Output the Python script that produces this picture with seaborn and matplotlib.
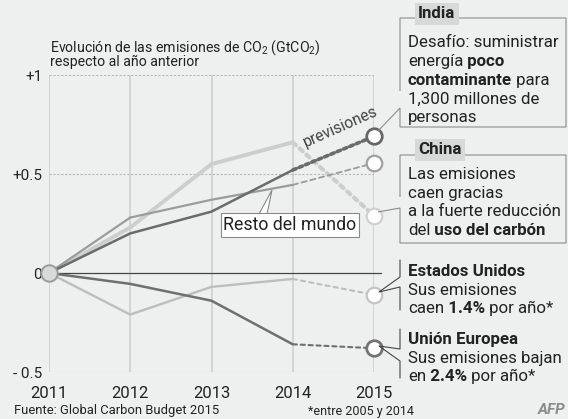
import numpy as np
import pandas as pd
import matplotlib.pyplot as plt
import matplotlib.patches as mpatches
import seaborn as sns

# ── Data ──────────────────────────────────────────────────────────────
YEARS = [2011, 2012, 2013, 2014]
FORECAST_YEAR = 2015
SERIES = ["India", "Resto del mundo", "China", "Estados Unidos", "Unión Europea"]
india = [0, 0.20, 0.31, 0.52]
resto = [0, 0.28, 0.37, 0.445]
china = [0, 0.23, 0.55, 0.66]
usa = [0, -0.21, -0.07, -0.03]
eu = [0, -0.055, -0.14, -0.36]
forecast_2015 = [0.69, 0.555, 0.29, -0.11, -0.38]

YTICKS = [-0.5, 0, 0.5, 1]
YTICKLABELS = ["- 0.5", "0", "+0.5", "+1"]

# ── Style ─────────────────────────────────────────────────────────────
BG = "#eef0ef"
TXT = "#222222"
COLORS = {"India": "#6b6b6b", "Resto del mundo": "#9b9b9b", "China": "#cdcdcd",
          "Estados Unidos": "#bdbdbd", "Unión Europea": "#6f6f6f"}
LW = {"India": 1.8, "Resto del mundo": 1.6, "China": 2.8,
      "Estados Unidos": 1.7, "Unión Europea": 1.8}
FORE_LS = {"India": (0, (1, 0.9)), "Resto del mundo": (0, (3, 2)), "China": (0, (1, 1.2)),
           "Estados Unidos": (0, (2, 2)), "Unión Europea": (0, (2, 1.8))}
FORE_LW = {"India": 2.6, "Resto del mundo": 1.3, "China": 3.0,
           "Estados Unidos": 1.5, "Unión Europea": 1.5}

sns.set_theme(style="white")
plt.rcParams.update({
    "font.family": ["Roboto", "DejaVu Sans"],
    "text.color": TXT,
    "mathtext.fontset": "custom",
    "mathtext.rm": "Roboto",
    "mathtext.it": "Roboto:italic",
    "mathtext.bf": "Roboto:bold",
})

W, H = 568, 419
fx = lambda x: x / W
fy = lambda y: 1 - y / H

df = pd.DataFrame({
    "year": YEARS * len(SERIES),
    "series": np.repeat(SERIES, len(YEARS)),
    "value": india + resto + china + usa + eu,
})
fore = pd.DataFrame({"series": SERIES, "v2014": [india[-1], resto[-1], china[-1], usa[-1], eu[-1]],
                     "v2015": forecast_2015})

fig = plt.figure(figsize=(W / 100, H / 100), dpi=100, facecolor=BG)
ax = fig.add_axes([fx(49), fy(372), fx(374) - fx(49), fy(75) - fy(372)])
ax.set_facecolor("none")
ax.set_xlim(2011, 2015)
ax.set_ylim(-0.5, 1)
for s in ax.spines.values():
    s.set_visible(False)

# grid
for yr in range(2011, 2016):
    ax.axvline(yr, color="#d2d2d2", lw=1.3, zorder=0)
for yv in (1, 0.5, -0.5):
    ax.axhline(yv, color="#b8b8b8", lw=0.8, ls=(0, (2, 1.5)), zorder=0)
ax.plot([2011, 2015.08], [0, 0], color="#444444", lw=0.9, zorder=1, clip_on=False)

# actual lines
draw_order = ["China", "Estados Unidos", "Resto del mundo", "India", "Unión Europea"]
for name in draw_order:
    sub = df[df["series"] == name]
    sns.lineplot(data=sub, x="year", y="value", color=COLORS[name], lw=LW[name],
                 ax=ax, legend=False, zorder=3, solid_capstyle="round")

# forecast segments
for name in draw_order:
    row = fore[fore["series"] == name].iloc[0]
    ax.plot([YEARS[-1], FORECAST_YEAR], [row["v2014"], row["v2015"]], color=COLORS[name],
            lw=FORE_LW[name], ls=FORE_LS[name], dash_capstyle="round", zorder=2)

# markers
edge = {"India": "#666666", "Resto del mundo": "#a0a0a0", "China": "#d0d0d0",
        "Estados Unidos": "#c4c4c4", "Unión Europea": "#737373"}
for name, v in zip(SERIES, forecast_2015):
    ax.scatter([FORECAST_YEAR], [v], s=125, facecolor="white", edgecolor=edge[name],
               linewidth=2.0 if name in ("India", "Unión Europea") else 1.6, zorder=6, clip_on=False)
ax.scatter([YEARS[0]], [0], s=140, facecolor="#d9d9d9", edgecolor="#9a9a9a",
           linewidth=1.4, zorder=6, clip_on=False)

# ticks
ax.set_xticks(range(2011, 2016))
ax.set_xticklabels([str(y) for y in range(2011, 2016)], fontsize=12, color=TXT)
ax.set_yticks(YTICKS)
ax.set_yticklabels(YTICKLABELS, fontsize=11, color=TXT)
ax.tick_params(length=0, pad=5)
ax.tick_params(axis="x", pad=10)
ax.set_xlabel("")
ax.set_ylabel("")

# axis title (two tight lines in one text)
fig.text(fx(50), fy(66), "Evolución de las emisiones de CO$_2$ (GtCO$_2$)\nrespecto al año anterior",
         fontsize=10.2, va="baseline", linespacing=0.85)

# previsiones
fig.text(fx(340), fy(127), "previsiones", fontsize=11.3, rotation=24, ha="center", va="center",
         color="#444444")

# Resto del mundo callout
ptr = mpatches.Polygon([(fx(259), fy(214)), (fx(267), fy(214)), (fx(272), fy(190))],
                       closed=True, transform=fig.transFigure, facecolor="white",
                       edgecolor="#8a8a8a", lw=0.8, zorder=7)
fig.add_artist(ptr)
fig.text(fx(290), fy(225), "Resto del mundo", fontsize=12.8, ha="center", va="center", zorder=8,
         bbox=dict(boxstyle="square,pad=0.15", fc="white", ec="#8a8a8a", lw=0.8))


def callout_box(x0, x1, y0, y1, ya, yb, tip):
    pts = [(x0, ya), (x0, y0), (x1, y0), (x1, y1), (x0, y1), (x0, yb), tip, (x0, ya)]
    poly = mpatches.Polygon([(fx(a), fy(b)) for a, b in pts], closed=False,
                            transform=fig.transFigure, facecolor="none", edgecolor="#8c8c8c",
                            lw=0.8, zorder=5)
    fig.add_artist(poly)


def bracket(x, y0, y1, ya, yb, tip):
    pts = [(x, y0), (x, ya), tip, (x, yb), (x, y1)]
    fig.add_artist(plt.Line2D([fx(a) for a, b in pts], [fy(b) for a, b in pts],
                              color="#444444", lw=0.8, transform=fig.transFigure))


def rich_line(x, y, parts, size=12.2):
    prev = None
    for txt, bold in parts:
        w = "bold" if bold else "normal"
        if prev is None:
            prev = fig.text(fx(x), fy(y), txt, fontsize=size, fontweight=w, va="baseline", zorder=9)
        else:
            prev = ax.annotate(txt, xy=(1, 0), xycoords=prev, va="bottom", ha="left",
                               fontsize=size, fontweight=w, zorder=9, annotation_clip=False)


def title_tag(x, y, s):
    fig.text(fx(x), fy(y), s, fontsize=12.2, fontweight="bold", va="center", ha="left", zorder=9,
             bbox=dict(boxstyle="square,pad=0.2", fc="#d7d8d8", ec="none"))


# India
callout_box(400, 566, 18, 127, 91, 108, (378, 131))
title_tag(418, 14, "India")
rich_line(408, 47, [("Desafío: suministrar", False)])
rich_line(408, 66, [("energía", False), (" poco", True)])
rich_line(408, 85, [("contaminante", True), (" para", False)])
rich_line(408, 104, [("1,300 millones de", False)])
rich_line(408, 122, [("personas", False)])

# China
callout_box(400, 566, 155, 243, 197, 208, (378, 212))
title_tag(418, 150, "China")
rich_line(408, 179, [("Las emisiones", False)])
rich_line(408, 198, [("caen gracias", False)])
rich_line(408, 216, [("a la fuerte reducción", False)])
rich_line(408, 235, [("del", False), (" uso del carbón", True)])

# Estados Unidos
bracket(400, 260, 310, 277, 287, (379, 292))
rich_line(408, 276, [("Estados Unidos", True)])
rich_line(408, 295, [("Sus emisiones", False)])
rich_line(408, 313, [("caen", False), (" 1.4%", True), (" por año*", False)])

# Unión Europea
bracket(400, 329, 378, 349, 361, (379, 346))
rich_line(408, 344, [("Unión Europea", True)])
rich_line(408, 363, [("Sus emisiones bajan", False)])
rich_line(408, 381, [("en", False), (" 2.4%", True), (" por año*", False)])

# footer
fig.text(fx(14), fy(414), "Fuente: Global Carbon Budget 2015", fontsize=9.4, va="baseline")
fig.text(fx(308), fy(415), "*entre 2005 y 2014", fontsize=9, va="baseline")
fig.text(fx(565), fy(414), "AFP", fontsize=11, fontweight="bold", style="italic",
         color="#8a8a8a", ha="right", va="baseline")

fig.savefig("out.png", dpi=100, facecolor=BG)
